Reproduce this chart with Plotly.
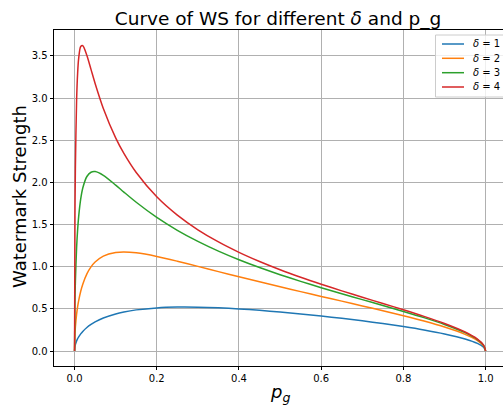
import plotly.graph_objects as go

# p_g sample positions
p_g = [0.0, 0.001, 0.002, 0.005, 0.0075, 0.01, 0.015, 0.02, 0.03, 0.04, 0.05, 0.07,
       0.1, 0.12, 0.15, 0.2, 0.25, 0.3, 0.35, 0.4, 0.45, 0.5, 0.55, 0.6, 0.65,
       0.7, 0.75, 0.8, 0.85, 0.9, 0.95, 0.98, 0.995, 1.0]

ws_delta1 = [0.0, 0.0542, 0.0765, 0.1202, 0.1464, 0.1681, 0.2036, 0.2326, 0.2788, 0.3151, 0.3449, 0.3913,
             0.4399, 0.4629, 0.4878, 0.5115, 0.5205, 0.5196, 0.5118, 0.4989, 0.4821, 0.4621, 0.4395, 0.4145, 0.3872,
             0.3575, 0.3251, 0.2894, 0.2494, 0.2024, 0.1423, 0.0896, 0.0447, 0.0]
ws_delta2 = [0.0, 0.2007, 0.2818, 0.4367, 0.5260, 0.5975, 0.7087, 0.7931, 0.9146, 0.9972, 1.0553, 1.1264,
             1.1695, 1.1752, 1.1649, 1.1220, 1.0652, 1.0038, 0.9417, 0.8803, 0.8203, 0.7616, 0.7042, 0.6476, 0.5914,
             0.5350, 0.4777, 0.4182, 0.3548, 0.2840, 0.1970, 0.1232, 0.0613, 0.0]
ws_delta3 = [0.0, 0.5919, 0.8213, 1.2289, 1.4405, 1.5946, 1.8036, 1.9338, 2.0703, 2.1209, 2.1285, 2.0846,
             1.9686, 1.8850, 1.7642, 1.5848, 1.4319, 1.3004, 1.1853, 1.0829, 0.9902, 0.9052, 0.8259, 0.7509, 0.6791,
             0.6091, 0.5397, 0.4693, 0.3957, 0.3150, 0.2174, 0.1356, 0.0673, 0.0]
ws_delta4 = [0.0, 1.6079, 2.1628, 2.9815, 3.2984, 3.4720, 3.6115, 3.6216, 3.5059, 3.3407, 3.1744, 2.8779,
             2.5283, 2.3436, 2.1171, 1.8294, 1.6118, 1.4381, 1.2938, 1.1702, 1.0615, 0.9640, 0.8749, 0.7919, 0.7133,
             0.6377, 0.5633, 0.4886, 0.4111, 0.3266, 0.2250, 0.1402, 0.0696, 0.0]

series = [("1", ws_delta1), ("2", ws_delta2), ("3", ws_delta3), ("4", ws_delta4)]
colors = ["#1f77b4", "#ff7f0e", "#2ca02c", "#d62728"]

x_ticks = [0.0, 0.2, 0.4, 0.6, 0.8, 1.0]
y_ticks = [0.0, 0.5, 1.0, 1.5, 2.0, 2.5, 3.0, 3.5]

FONT = "DejaVu Sans"
W, H = 503, 405
L, R, T, B = 54, 503, 30, 366  # plot area in pixels


def px(xp):
    return (xp - L) / (R - L)


def py(yp):
    return (B - yp) / (B - T)


fig = go.Figure()
for (lab, vals), c in zip(series, colors):
    fig.add_trace(go.Scatter(x=p_g, y=vals, mode="lines", name="δ = " + lab,
                             line=dict(color=c, width=1.5, shape="spline", smoothing=0.8),
                             showlegend=False))

axis_common = dict(
    showgrid=True, gridcolor="#b0b0b0", gridwidth=0.8, zeroline=False,
    showline=True, linecolor="black", linewidth=0.8,
    ticks="outside", ticklen=3.5, tickwidth=0.8, tickcolor="black",
    tickfont=dict(family=FONT, size=10, color="black"),
)

fig.update_layout(
    width=W, height=H,
    margin=dict(l=L, r=W - R, t=T, b=H - B, pad=0),
    paper_bgcolor="white", plot_bgcolor="white",
    font=dict(family=FONT, color="black"),
    title=dict(text="Curve of WS for different <i>δ</i> and p_g",
               font=dict(family=FONT, size=18.5, color="black"),
               x=px(278), xref="paper", xanchor="center",
               y=1 - 19 / H, yref="container", yanchor="middle"),
    xaxis=dict(range=[-0.05, (R - 75) / 410.67], tickvals=x_ticks,
               ticktext=[f"{v:.1f}" for v in x_ticks], mirror=True, **axis_common),
    yaxis=dict(range=[-0.178, 3.808], tickvals=y_ticks,
               ticktext=[f"{v:.1f}" for v in y_ticks], mirror=False, **axis_common),
)

# axis titles
fig.add_annotation(text="Watermark Strength", xref="paper", yref="paper",
                   x=px(19), y=py(197), textangle=-90, showarrow=False,
                   font=dict(family=FONT, size=18, color="black"),
                   xanchor="center", yanchor="middle")
fig.add_annotation(text="<i>p</i><sub><i>g</i></sub>", xref="paper", yref="paper",
                   x=px(280), y=py(393), showarrow=False,
                   font=dict(family=FONT, size=18, color="black"),
                   xanchor="center", yanchor="middle")

# legend box
fig.add_shape(type="rect", xref="paper", yref="paper",
              x0=px(435.5), x1=px(510), y0=py(97), y1=py(35),
              line=dict(color="#cccccc", width=1), fillcolor="rgba(255,255,255,0.8)",
              layer="above")
rows = [44, 58.3, 72.7, 87]
for (lab, _), c, ry in zip(series, colors, rows):
    fig.add_shape(type="line", xref="paper", yref="paper",
                  x0=px(442), x1=px(464), y0=py(ry), y1=py(ry),
                  line=dict(color=c, width=1.5), layer="above")
    fig.add_annotation(text="<i>δ</i> = " + lab, xref="paper", yref="paper",
                       x=px(471), y=py(ry), showarrow=False, xanchor="left", yanchor="middle",
                       font=dict(family=FONT, size=10, color="black"))

fig.write_html("out.html", config={"displayModeBar": False},
               post_script="document.body.style.margin='0';document.body.style.overflow='hidden';")
